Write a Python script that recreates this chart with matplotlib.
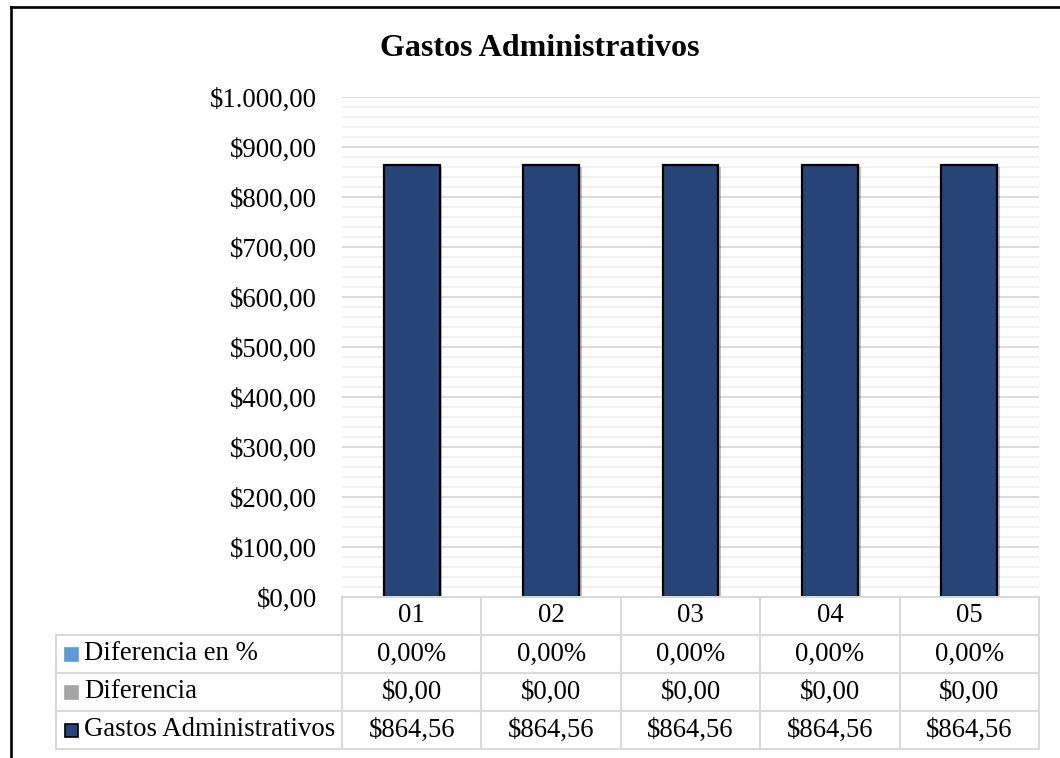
import matplotlib
matplotlib.use("Agg")
import matplotlib.pyplot as plt
from matplotlib.ticker import FuncFormatter, MultipleLocator
from matplotlib.transforms import blended_transform_factory
from matplotlib.patches import Rectangle
from matplotlib.lines import Line2D
import matplotlib.patheffects as pe

plt.rcParams["font.family"] = ["Liberation Serif", "DejaVu Serif"]

periodos = ["01", "02", "03", "04", "05"]
gastos = [864.56, 864.56, 864.56, 864.56, 864.56]
diferencia = [0.00, 0.00, 0.00, 0.00, 0.00]
diferencia_pct = [0.00, 0.00, 0.00, 0.00, 0.00]

series = ["Diferencia en %", "Diferencia", "Gastos Administrativos"]
series_colors = ["#5b9bd5", "#a5a5a5", "#264478"]

AZUL = "#264478"
GRID_MAJOR = "#d9d9d9"
GRID_MINOR = "#f0f0f0"
FS = 19.3


def money(v):
    s = f"{v:,.2f}"
    return "$" + s.replace(",", "X").replace(".", ",").replace("X", ".")


def pct(v):
    return f"{v:.2f}".replace(".", ",") + "%"


W, H = 1060, 758
fig = plt.figure(figsize=(W / 100, H / 100), dpi=100)

# frame lines (top and left only)
fig.add_artist(Line2D([10.5 / W, 1], [1 - 6.5 / H] * 2, color="black", lw=1.9,
                      transform=fig.transFigure))
fig.add_artist(Line2D([10.5 / W] * 2, [0, 1 - 6.5 / H], color="black", lw=1.9,
                      transform=fig.transFigure))

ax = fig.add_axes([342 / W, 1 - 597 / H, 697 / W, 500 / H])
x = range(len(periodos))
ax.bar(x, gastos, width=0.4, color=AZUL, edgecolor="black", linewidth=1.6, zorder=3,
       path_effects=[pe.SimplePatchShadow(offset=(2, -2), shadow_rgbFace="black", alpha=0.25),
                     pe.Normal()])

ax.set_xlim(-0.5, len(periodos) - 0.5)
ax.set_ylim(0, 1000)
ax.yaxis.set_major_locator(MultipleLocator(100))
ax.yaxis.set_minor_locator(MultipleLocator(20))
ax.yaxis.set_major_formatter(FuncFormatter(lambda v, _: money(v)))
ax.grid(which="minor", axis="y", color=GRID_MINOR, lw=1.3, zorder=0)
ax.grid(which="major", axis="y", color=GRID_MAJOR, lw=1.3, zorder=1)
ax.tick_params(axis="y", which="both", length=0, labelsize=FS, pad=18)
ax.tick_params(axis="x", length=0, labelbottom=False)
for s in ax.spines.values():
    s.set_visible(False)

fig.text(540 / W, 1 - 48 / H, "Gastos Administrativos", ha="center", va="center",
         fontsize=23, fontweight="bold")

# data table under the plot
row_h = 38 / 500
label_x0 = (56 - 342) / 697
tr = blended_transform_factory(ax.transData, ax.transAxes)
rows = [[pct(v) for v in diferencia_pct], [money(v) for v in diferencia], [money(v) for v in gastos]]
n = len(periodos)

def hline(y, x0):
    ax.add_line(Line2D([x0, 1], [y, y], color=GRID_MAJOR, lw=1.5, transform=ax.transAxes,
                       clip_on=False, zorder=4))

def vline(xa, y0, y1):
    ax.add_line(Line2D([xa, xa], [y0, y1], color=GRID_MAJOR, lw=1.5, transform=ax.transAxes,
                       clip_on=False, zorder=4))

hline(0, 0)
for r in range(1, len(rows) + 2):
    hline(-r * row_h, label_x0)
bottom = -(len(rows) + 1) * row_h
for i in range(n + 1):
    vline(i / n, bottom, 0)
vline(label_x0, bottom, -row_h)

for i, p in enumerate(periodos):
    ax.text(i, -0.5 * row_h, p, transform=tr, ha="center", va="center", fontsize=FS)
for r, vals in enumerate(rows):
    yc = -(r + 1.5) * row_h
    for i, t in enumerate(vals):
        ax.text(i, yc, t, transform=tr, ha="center", va="center", fontsize=FS)
    sw = 13 / 697
    sh = 13 / 500
    ax.add_patch(Rectangle((label_x0 + 8.5 / 697, yc - sh / 2), sw, sh, transform=ax.transAxes,
                           facecolor=series_colors[r],
                           edgecolor="black" if r == 2 else series_colors[r],
                           lw=1.2, clip_on=False))
    ax.text(label_x0 + 28 / 697, yc, series[r], transform=ax.transAxes, ha="left",
            va="center", fontsize=FS)

fig.savefig("out.png", dpi=100)
